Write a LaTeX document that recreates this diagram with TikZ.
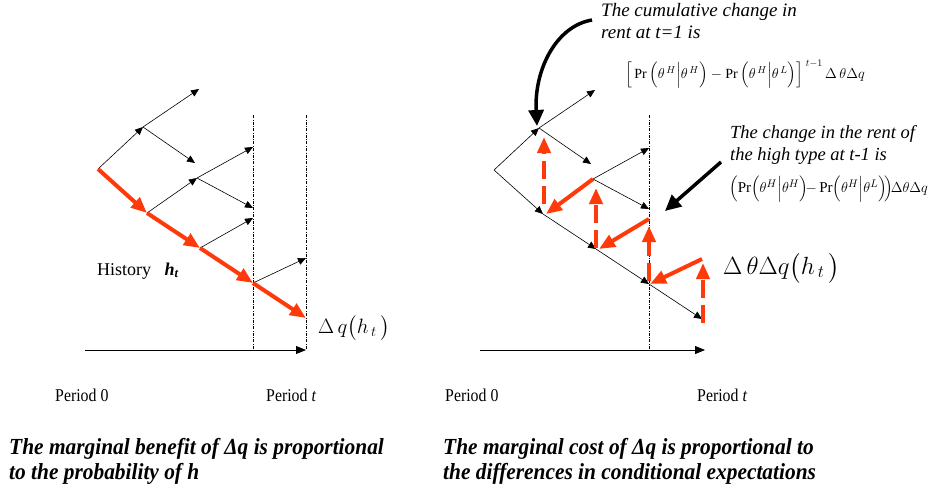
\documentclass[tikz,border=0pt]{standalone}
\usepackage{amsmath}
\usepackage{exscale}
\usepackage{fontspec}
\setmainfont{Liberation Serif}
\newfontfamily\condserif[FakeStretch=0.88]{Liberation Serif}
\newfontfamily\capserif[FakeStretch=0.93]{Liberation Serif}
\usetikzlibrary{arrows.meta,calc}
\definecolor{hist}{HTML}{FF3A0A}
\tikzset{
  edge/.style={-{Triangle[length=8pt,width=7pt]},line width=0.6pt,black},
  histedge/.style={-{Triangle[length=16pt,width=13pt]},line width=4pt,color=hist},
  rentedge/.style={histedge,dash pattern=on 18pt off 7pt},
  callout/.style={-{Triangle[length=16pt,width=15pt]},line width=3.5pt,black},
  period/.style={line width=0.5pt,dash pattern=on 3pt off 1.5pt on 0.6pt off 1.5pt},
  timeaxis/.style={-{Triangle[length=10pt,width=8pt]},line width=0.8pt},
  lbl/.style={anchor=west,inner sep=0pt,font=\condserif\fontsize{18}{20}\selectfont},
  note/.style={anchor=west,align=left,inner sep=0pt,font=\itshape\fontsize{19}{22}\selectfont},
  caption/.style={anchor=west,align=left,inner sep=0pt,font=\capserif\bfseries\itshape\fontsize{23}{25}\selectfont},
}
% nodes of one history tree, names prefixed by #1
\newcommand{\treecoords}[1]{%
  \coordinate (#1) at (98,169);
  \coordinate (#1a) at (143,127);
  \coordinate (#1aa) at (199,89);
  \coordinate (#1ab) at (195,163);
  \coordinate (#1b) at (147,213);
  \coordinate (#1ba) at (197,178);
  \coordinate (#1baa) at (253,147);
  \coordinate (#1bab) at (253,208);
  \coordinate (#1bb) at (200,248);
  \coordinate (#1bba) at (253,218);
  \coordinate (#1bbb) at (253,283);
  \coordinate (#1bbba) at (306,258);
  \coordinate (#1bbbb) at (306,318);
}

\begin{document}
\begin{tikzpicture}[x=1pt,y=-1pt]
  \useasboundingbox (0,0) rectangle (928,493);
  \treecoords{B}
  \begin{scope}[shift={(396,1)}]
    \treecoords{C}
  \end{scope}

  % left: marginal benefit
  \draw[period] (253,115) -- (253,350);
  \draw[period] (306,115) -- (306,350);
  \coordinate (Bt0) at (85,350);
  \coordinate (Btt) at (306,350);
  \draw[timeaxis] (Bt0) -- (Btt);
  \draw[edge] (B) -- (Ba);
  \draw[edge] (Ba) -- (Baa);
  \draw[edge] (Ba) -- (Bab);
  \draw[edge] (Bb) -- (Bba);
  \draw[edge] (Bba) -- (Bbaa);
  \draw[edge] (Bba) -- (Bbab);
  \draw[edge] (Bbb) -- (Bbba);
  \draw[edge] (Bbbb) -- (Bbbba);
  \draw[histedge] (B) -- (Bb);
  \draw[histedge] (Bb) -- (Bbb);
  \draw[histedge] (Bbb) -- (Bbbb);
  \draw[histedge] (Bbbb) -- (Bbbbb);
  \node[lbl,font=\fontsize{18}{20}\selectfont] (hist) at (97,271) {History \ \ \textbf{\textit{h}\textsubscript{\textit{t}}}};
  \node[lbl,font=\fontsize{22}{24}\selectfont] (dq) at (318,328) {$\Delta\, q\big(h_{\,t}\,\big)$};
  \node[lbl] (p0L) at (55,395) {Period 0};
  \node[lbl] (ptL) at (266,395) {Period \textit{t}};
  \node[caption] (capL) at (9,461.5) {The marginal benefit of \textit{Δ}q is proportional\\to the probability of h};

  % right: marginal cost
  \draw[period] (649,115) -- (649,350);
  \coordinate (Ct0) at (480,350);
  \coordinate (Ctt) at (705,350);
  \draw[timeaxis] (Ct0) -- (Ctt);
  \draw[edge] (C) -- (Ca);
  \draw[edge] (Ca) -- (Caa);
  \draw[edge] (Ca) -- (Cab);
  \draw[edge] (C) -- (Cb);
  \draw[edge] (Cba) -- (Cbaa);
  \draw[edge] (Cba) -- (Cbab);
  \draw[edge] (Cb) -- (Cbb);
  \draw[edge] (Cbb) -- (Cbbb);
  \draw[edge] (Cbbb) -- (Cbbbb);
  \draw[histedge] (Cba) -- ($(Cb)+(3,0)$);
  \draw[histedge] (Cbba) -- ($(Cbb)+(3,0)$);
  \draw[histedge] (Cbbba) -- ($(Cbbb)+(1,0)$);
  \draw[rentedge] ($(Cb)+(1,-10)$) -- ($(Cb|-Ca)+(1,9)$);
  \draw[rentedge] ($(Cbb)+(0,-1)$) -- ($(Cbb|-Cba)+(0,9)$);
  \draw[rentedge] ($(Cbbb)+(0,-3)$) -- ($(Cbbb|-Cbba)+(0,7)$);
  \draw[rentedge] ($(Cbbbb)+(1,4)$) -- ($(Cbbbb|-Cbbba)+(1,4)$);

  \node[note] (cumul) at (601,21) {The cumulative change in\\rent at t=1 is};
  \node[inner sep=0pt,font=\fontsize{14}{16}\selectfont] (cumulf) at (745,74)
    {$\Big[\Pr\Big(\theta^{\,H}\Big|\theta^{\,H}\Big)-\Pr\Big(\theta^{\,H}\Big|\theta^{\,L}\Big)\Big]^{\;t-1}\,\Delta\,\theta\Delta q$};
  \coordinate (cumulstart) at (592,20);
  \draw[callout] (cumulstart) .. controls (556,26) and (534,70) .. ($(Ca)+(-2,-2)$);

  \node[note,font=\itshape\fontsize{18.5}{22}\selectfont] (step) at (730,145) {The change in the rent of\\the high type at t-1 is};
  \node[anchor=west,inner sep=0pt,font=\fontsize{15}{17}\selectfont] (stepf) at (729,189)
    {$\Big(\!\Pr\!\Big(\theta^H\Big|\theta^H\Big)\!{-}\Pr\!\Big(\theta^H\Big|\theta^L\Big)\!\Big)\!\Delta\theta\Delta q$};
  \coordinate (stepstart) at (721,162);
  \draw[callout] (stepstart) -- ($(Cbab)+(16,2)$);

  \node[lbl,font=\fontsize{24}{26}\selectfont] (dtq) at (723,268) {$\Delta\,\theta\Delta q\big(h_{\,t}\,\big)$};
  \node[lbl] (p0R) at (445,395) {Period 0};
  \node[lbl] (ptR) at (697,395) {Period \textit{t}};
  \node[caption] (capR) at (443,461.5) {The marginal cost of \textit{Δ}q is proportional to\\the differences in conditional expectations};
\end{tikzpicture}
\end{document}
